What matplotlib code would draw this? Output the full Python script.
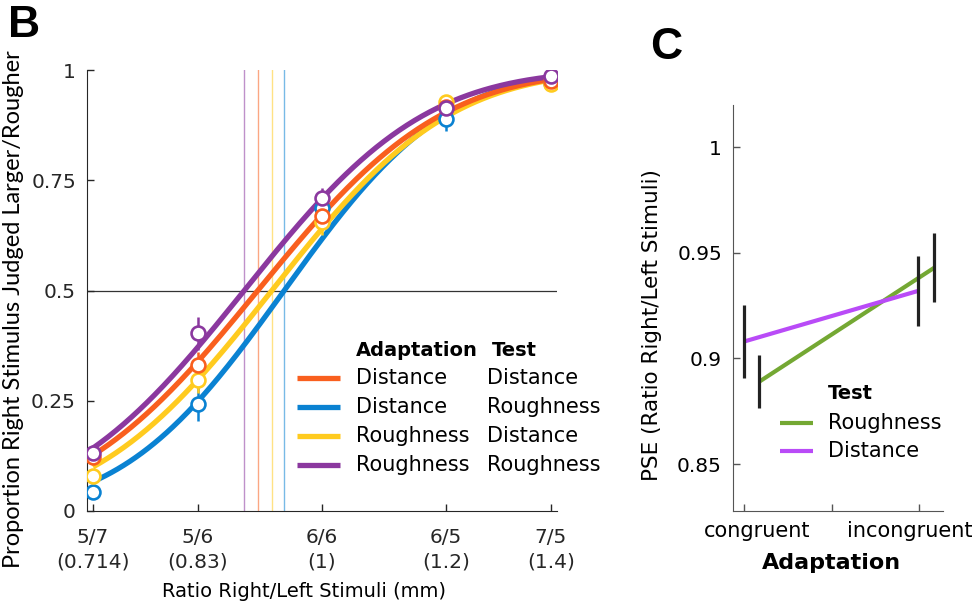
import math
import numpy as np
import matplotlib
matplotlib.use("Agg")
import matplotlib.pyplot as plt
from matplotlib.transforms import blended_transform_factory

plt.rcParams['font.family'] = ['DejaVu Sans']

# ---- panel B data ----
ratios = [5/7, 5/6, 1.0, 6/5, 7/5]
tick_top = ["5/7", "5/6", "6/6", "6/5", "7/5"]
tick_bottom = ["(0.714)", "(0.83)", "(1)", "(1.2)", "(1.4)"]

adapt_names = ["Distance", "Distance", "Roughness", "Roughness"]
test_names = ["Distance", "Roughness", "Distance", "Roughness"]
colors = ["#F95F1E", "#0A82D2", "#FFCB1F", "#8B389F"]

p_dist_dist = [0.123, 0.330, 0.670, 0.915, 0.975]
p_dist_rough = [0.044, 0.243, 0.686, 0.889, 0.970]
p_rough_dist = [0.080, 0.297, 0.655, 0.928, 0.968]
p_rough_rough = [0.131, 0.403, 0.709, 0.913, 0.987]

e_dist_dist = [0.010, 0.030, 0.020, 0.015, 0.005]
e_dist_rough = [0.010, 0.038, 0.020, 0.027, 0.005]
e_rough_dist = [0.010, 0.030, 0.030, 0.015, 0.005]
e_rough_rough = [0.010, 0.037, 0.023, 0.015, 0.005]

# fitted psychometric parameters (PSE as ratio, slope sigma in log-ratio units)
pse_fit = [0.910, 0.946, 0.929, 0.892]
sigma_fit = [0.212, 0.187, 0.205, 0.208]

props = [p_dist_dist, p_dist_rough, p_rough_dist, p_rough_rough]
errs = [e_dist_dist, e_dist_rough, e_rough_dist, e_rough_rough]

# ---- panel C data ----
adapt_levels = ["congruent", "incongruent"]
pse_rough = [0.889, 0.943]
pse_rough_err = [0.0125, 0.0165]
pse_dist = [0.908, 0.932]
pse_dist_err = [0.0175, 0.0165]
c_green = "#74A833"
c_purple = "#B94BF7"

fig = plt.figure(figsize=(9.79, 6.07), dpi=100)
axc = '#262626'

# ================= panel B =================
ax = fig.add_axes([87/979, 1-511/607, 470/979, 441/607])
lx = np.log(ratios)
xs = np.linspace(lx[0], lx[-1], 300)


def ncdf(z):
    return 0.5 * (1 + np.array([math.erf(v / math.sqrt(2)) for v in z]))


ax.axhline(0.5, color='#333333', lw=0.9, zorder=1)
for i in range(4):
    ax.plot([np.log(pse_fit[i])] * 2, [0, 1], color=colors[i], lw=1.0, alpha=0.55, zorder=1)

draw_order = [1, 2, 0, 3]
for i in draw_order:
    ax.plot(xs, ncdf((xs - np.log(pse_fit[i])) / sigma_fit[i]), color=colors[i], lw=3.8,
            solid_capstyle='butt', zorder=2)
for i in draw_order:
    ax.errorbar(lx, props[i], yerr=errs[i], fmt='o', color=colors[i], ms=10, mew=1.9,
                mfc='white', mec=colors[i], elinewidth=1.8, capsize=0, zorder=3)

ax.set_xlim(-0.3453, 0.3453)
ax.set_ylim(0, 1)
ax.set_xticks(lx)
ax.set_xticklabels([a + "\n" + b for a, b in zip(tick_top, tick_bottom)], fontsize=14.5,
                   linespacing=1.4)
ax.set_yticks([0, 0.25, 0.5, 0.75, 1])
ax.set_yticklabels(["0", "0.25", "0.5", "0.75", "1"], fontsize=14.5)
ax.tick_params(direction='in', length=5, width=1, colors=axc, pad=8)
ax.tick_params(axis='x', pad=12)
for s in ['top', 'right']:
    ax.spines[s].set_visible(False)
for s in ['left', 'bottom']:
    ax.spines[s].set_color(axc)
ax.set_ylabel("Proportion Right Stimulus Judged Larger/Rougher", fontsize=17, family='Lato')
ax.yaxis.set_label_coords(-0.134, 0.458)
ax.set_xlabel("Ratio Right/Left Stimuli (mm)", fontsize=14)
ax.xaxis.set_label_coords(0.461, -0.16)

# legend drawn by hand (two text columns)
leg_rows = [0.302, 0.236, 0.170, 0.104]
ax.text(0.572, 0.365, "Adaptation", transform=ax.transAxes, fontsize=14, fontweight='bold', va='center')
ax.text(0.862, 0.365, "Test", transform=ax.transAxes, fontsize=14, fontweight='bold', va='center')
for i, yy in enumerate(leg_rows):
    ax.plot([0.447, 0.538], [yy, yy], transform=ax.transAxes, color=colors[i], lw=3.8,
            solid_capstyle='butt', clip_on=False)
    ax.text(0.572, yy, adapt_names[i], transform=ax.transAxes, fontsize=15, va='center')
    ax.text(0.851, yy, test_names[i], transform=ax.transAxes, fontsize=15, va='center')

# ================= panel C =================
ax2 = fig.add_axes([733/979, 1-510.7/607, 210/979, 405.7/607])
x_dist = [1.0, 1.994]
x_rough = [1.087, 2.086]
ax2.plot(x_rough, pse_rough, color=c_green, lw=3.0, solid_capstyle='butt', zorder=2)
ax2.plot(x_dist, pse_dist, color=c_purple, lw=3.0, solid_capstyle='butt', zorder=2)
ax2.errorbar(x_dist, pse_dist, yerr=pse_dist_err, fmt='none', ecolor='#222222',
             elinewidth=2.3, capsize=0, zorder=3)
ax2.errorbar(x_rough, pse_rough, yerr=pse_rough_err, fmt='none', ecolor='#222222',
             elinewidth=2.3, capsize=0, zorder=3)

ax2.set_xlim(0.937, 2.135)
ax2.set_ylim(0.8279, 1.02)
ax2.set_xticks([1, 1.5, 2])
ax2.set_xticklabels([])
tr = blended_transform_factory(ax2.transData, ax2.transAxes)
for xl, name in zip([1.074, 1.943], adapt_levels):
    ax2.text(xl, -0.05, name, transform=tr, fontsize=15, ha='center', va='center')
ax2.set_yticks([0.85, 0.9, 0.95, 1])
ax2.set_yticklabels(["0.85", "0.9", "0.95", "1"], fontsize=14.5)
ax2.tick_params(direction='in', length=5, width=1, colors='#555555', labelcolor='black', pad=8)
for s in ['top', 'right']:
    ax2.spines[s].set_visible(False)
for s in ['left', 'bottom']:
    ax2.spines[s].set_color('#555555')
ax2.set_ylabel("PSE (Ratio Right/Left Stimuli)", fontsize=15.5)
ax2.yaxis.set_label_coords(-0.338, 0.458)
ax2.set_xlabel("Adaptation", fontsize=16, fontweight='bold')
ax2.xaxis.set_label_coords(0.471, -0.104)

ax2.text(0.452, 0.288, "Test", transform=ax2.transAxes, fontsize=14, fontweight='bold', va='center')
for yy, name, c in [(0.216, "Roughness", c_green), (0.147, "Distance", c_purple)]:
    ax2.plot([0.224, 0.381], [yy, yy], transform=ax2.transAxes, color=c, lw=3.0,
             solid_capstyle='butt', clip_on=False)
    ax2.text(0.452, yy, name, transform=ax2.transAxes, fontsize=15, va='center')

# panel letters
fig.text(0.008, 0.992, "B", fontsize=32, fontweight='bold', family='Liberation Sans', va='top')
fig.text(0.664, 0.955, "C", fontsize=32, fontweight='bold', family='Liberation Sans', va='top')

fig.savefig("out.png", dpi=100)
